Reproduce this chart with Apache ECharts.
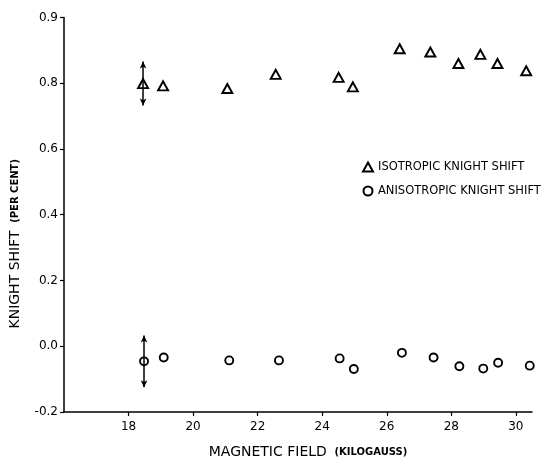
<!DOCTYPE html>
<html>
<head>
<meta charset="utf-8">
<script src="https://cdn.jsdelivr.net/npm/echarts@6/dist/echarts.min.js"></script>
<style>
  html, body { margin: 0; padding: 0; background: #fff; }
  #chart { width: 546px; height: 464px; }
</style>
</head>
<body>
<div id="chart"></div>
<script>
// field (kilogauss) and knight shift (per cent)
var isoField = [18.45, 19.07, 21.06, 22.56, 24.51, 24.95, 26.40, 27.35, 28.22, 28.90, 29.43, 30.32];
var isoShift = [0.799, 0.792, 0.784, 0.827, 0.818, 0.789, 0.905, 0.895, 0.860, 0.888, 0.860, 0.838];
var anisoField = [18.48, 19.09, 21.12, 22.66, 24.54, 24.98, 26.47, 27.45, 28.25, 28.99, 29.45, 30.43];
var anisoShift = [-0.046, -0.034, -0.043, -0.043, -0.037, -0.069, -0.020, -0.034, -0.061, -0.068, -0.050, -0.059];

// error bars on the first point: [field, low, high]
var isoErr = [18.45, 0.732, 0.866];
var anisoErr = [18.48, -0.125, 0.033];

var xTicks = [18, 20, 22, 24, 26, 28, 30];

var chart = echarts.init(document.getElementById('chart'));
var font = 'DejaVu Sans';

function pairs(xs, ys) {
  return xs.map(function (x, i) { return [x, ys[i]]; });
}
function errLine(e) {
  return [[{ coord: [e[0], e[1]] }, { coord: [e[0], e[2]] }]];
}

var option = {
  animation: false,
  backgroundColor: '#fff',
  textStyle: { fontFamily: font, color: '#000' },
  grid: { left: 62, right: 14, top: 17.5, bottom: 51 },
  legend: {
    orient: 'vertical',
    left: 357,
    top: 156,
    itemGap: 12,
    itemWidth: 10,
    itemHeight: 9,
    textStyle: { fontFamily: font, fontSize: 11.5, color: '#000' },
    data: ['ISOTROPIC KNIGHT SHIFT', 'ANISOTROPIC KNIGHT SHIFT']
  },
  xAxis: {
    type: 'value',
    min: 16,
    max: 30.5,
    interval: 2,
    name: '{a|MAGNETIC FIELD}  {b|(KILOGAUSS)}',
    nameLocation: 'middle',
    nameGap: 33,
    nameTextStyle: {
      padding: [0, 0, 0, 20],
      rich: {
        a: { fontFamily: font, fontSize: 14, color: '#000' },
        b: { fontFamily: font, fontSize: 10, color: '#000', fontWeight: 'bold' }
      }
    },
    axisLine: { onZero: false, lineStyle: { color: '#000', width: 1.5 } },
    axisTick: { length: 4, lineStyle: { color: '#000', width: 1.2 } },
    axisLabel: {
      showMinLabel: false,
      showMaxLabel: false,
      fontSize: 12,
      color: '#000',
      margin: 9,
      formatter: function (v) { return xTicks.indexOf(v) >= 0 ? String(v) : ''; }
    },
    splitLine: { show: false }
  },
  yAxis: {
    type: 'value',
    min: -0.2,
    max: 1.0,
    interval: 0.2,
    name: '{a|KNIGHT SHIFT}  {b|(PER CENT)}',
    nameLocation: 'middle',
    nameGap: 42,
    nameTextStyle: {
      padding: [0, 58, 0, 0],
      rich: {
        a: { fontFamily: font, fontSize: 14, color: '#000' },
        b: { fontFamily: font, fontSize: 10, color: '#000', fontWeight: 'bold' }
      }
    },
    axisLine: { show: true, lineStyle: { color: '#000', width: 1.5 } },
    axisTick: { show: true, length: 4, lineStyle: { color: '#000', width: 1.2 } },
    axisLabel: {
      fontSize: 12,
      color: '#000',
      margin: 6,
      // the original figure labels its top tick "0.9"
      formatter: function (v) { return v > 0.95 ? '0.9' : v.toFixed(1); }
    },
    splitLine: { show: false }
  },
  series: [
    {
      name: 'ISOTROPIC KNIGHT SHIFT',
      type: 'scatter',
      symbol: 'triangle',
      symbolSize: [10, 9],
      itemStyle: { color: '#fff', borderColor: '#000', borderWidth: 1.9, opacity: 1 },
      data: pairs(isoField, isoShift),
      z: 3,
      markLine: {
        silent: true,
        symbol: ['arrow', 'arrow'],
        symbolSize: [5, 7],
        label: { show: false },
        lineStyle: { color: '#000', width: 1.5, type: 'solid' },
        data: errLine(isoErr)
      }
    },
    {
      name: 'ANISOTROPIC KNIGHT SHIFT',
      type: 'scatter',
      symbol: 'circle',
      symbolSize: 8,
      itemStyle: { color: '#fff', borderColor: '#000', borderWidth: 1.9, opacity: 1 },
      data: pairs(anisoField, anisoShift),
      z: 3,
      markLine: {
        silent: true,
        symbol: ['arrow', 'arrow'],
        symbolSize: [5, 7],
        label: { show: false },
        lineStyle: { color: '#000', width: 1.5, type: 'solid' },
        data: errLine(anisoErr)
      }
    }
  ]
};

chart.setOption(option);
</script>
</body>
</html>
